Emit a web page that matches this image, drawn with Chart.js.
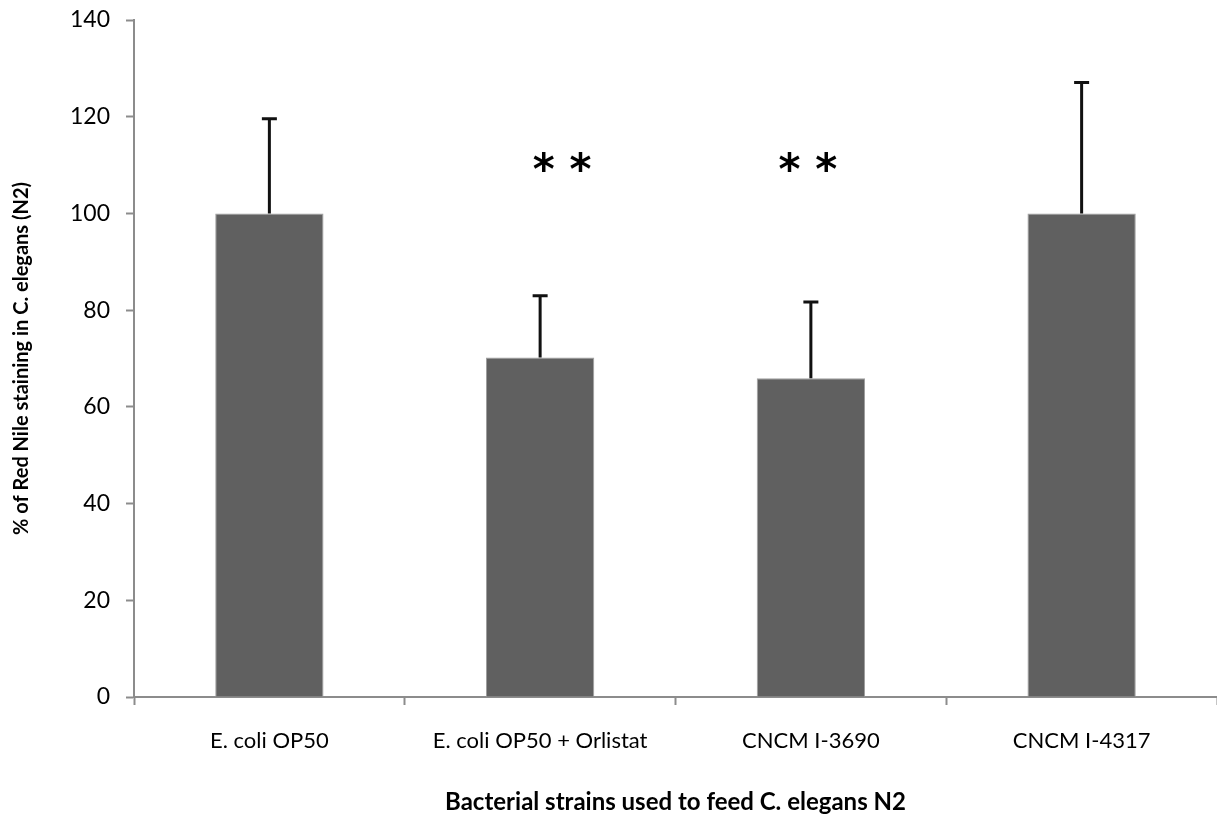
<!DOCTYPE html>
<html>
<head>
<meta charset="utf-8">
<script src="https://cdn.jsdelivr.net/npm/chart.js@4"></script>
<style>
  html, body { margin: 0; padding: 0; background: #fff; overflow: hidden; }
  #wrap { width: 1217px; height: 820px; position: relative; }
</style>
</head>
<body>
<div id="wrap"><canvas id="myBarChart"></canvas></div>
<script>
var strains = ["E. coli OP50", "E. coli OP50 + Orlistat", "CNCM I-3690", "CNCM I-4317"];
var redNile = [100, 70.2, 65.9, 100];
var errUpper = [119.6, 83.0, 81.7, 127.1];
var stars = ["", "**", "**", ""];
var starLevel = 110.7;
var yTicks = [0, 20, 40, 60, 80, 100, 120, 140];

var axisGray = '#8c8c8c';

// error bars, only the upper half is shown
var errorBars = {
    id: 'errorBars',
    afterDatasetsDraw: function(chart){
        var ctx = chart.ctx;
        var y = chart.scales.y;
        var meta = chart.getDatasetMeta(0);
        ctx.save();
        ctx.strokeStyle = '#111';
        ctx.lineWidth = 3;
        meta.data.forEach(function(bar, i){
            var top = y.getPixelForValue(errUpper[i]);
            ctx.beginPath();
            ctx.moveTo(bar.x, bar.y);
            ctx.lineTo(bar.x, top);
            ctx.moveTo(bar.x - 7.5, top);
            ctx.lineTo(bar.x + 7.5, top);
            ctx.stroke();
        });
        // significance stars
        ctx.fillStyle = '#000';
        ctx.font = 'bold 42px "DejaVu Sans"';
        ctx.textAlign = 'center';
        ctx.textBaseline = 'alphabetic';
        var nudge = [0, 22, -3, 0];
        meta.data.forEach(function(bar, i){
            if(!stars[i]) return;
            var txt = stars[i].split('').join(' ');
            var m = ctx.measureText(txt);
            var cy = y.getPixelForValue(starLevel);
            var base = cy + (m.actualBoundingBoxAscent - m.actualBoundingBoxDescent) / 2;
            ctx.fillText(txt, bar.x + nudge[i], base);
        });
        ctx.restore();
    }
};

var ctx1 = document.getElementById("myBarChart");
var myBarChart = new Chart(ctx1, {
    type: 'bar',
    data: {
        labels: strains,
        datasets: [{
            label: '% of Red Nile staining',
            data: redNile,
            backgroundColor: '#606060',
            borderColor: '#a0a0a0',
            borderWidth: 1,
            barPercentage: 0.4,
            categoryPercentage: 1.0
        }]
    },
    options: {
        responsive: true,
        maintainAspectRatio: false,
        animation: false,
        layout: { padding: { top: 20, right: 0, bottom: 0, left: 0 } },
        plugins: {
            legend: { display: false },
            tooltip: { enabled: false }
        },
        scales: {
            x: {
                offset: true,
                grid: {
                    offset: true,
                    drawOnChartArea: false,
                    drawTicks: true,
                    tickLength: 8,
                    tickWidth: 2,
                    color: axisGray
                },
                border: { color: axisGray, width: 2 },
                ticks: {
                    color: '#000',
                    padding: 23,
                    maxRotation: 0,
                    font: { family: 'Lato', size: 22 }
                },
                title: {
                    display: true,
                    text: 'Bacterial strains used to feed C. elegans N2',
                    color: '#000',
                    font: { family: 'Lato', size: 24, weight: 'bold' },
                    padding: { top: 0, bottom: 3 }
                },
                afterFit: function(scale){
                    scale.height = 123;
                    scale.paddingLeft = 0;
                    scale.paddingRight = 0;
                }
            },
            y: {
                min: 0,
                max: 140,
                afterBuildTicks: function(scale){
                    scale.ticks = yTicks.map(function(v){ return { value: v }; });
                },
                grid: {
                    drawOnChartArea: false,
                    tickLength: 8,
                    tickWidth: 2,
                    color: axisGray
                },
                border: { color: axisGray, width: 2 },
                ticks: {
                    color: '#000',
                    padding: 16,
                    font: { family: 'Lato', size: 23 }
                },
                title: {
                    display: true,
                    text: '% of Red Nile staining in C. elegans (N2)',
                    color: '#000',
                    font: { family: 'Lato', size: 20, weight: 'bold' },
                    padding: { top: 10, bottom: 0 }
                },
                afterFit: function(scale){
                    scale.width = 134;
                    scale.paddingTop = 0;
                    scale.paddingBottom = 0;
                }
            }
        }
    },
    plugins: [errorBars]
});
</script>
</body>
</html>
